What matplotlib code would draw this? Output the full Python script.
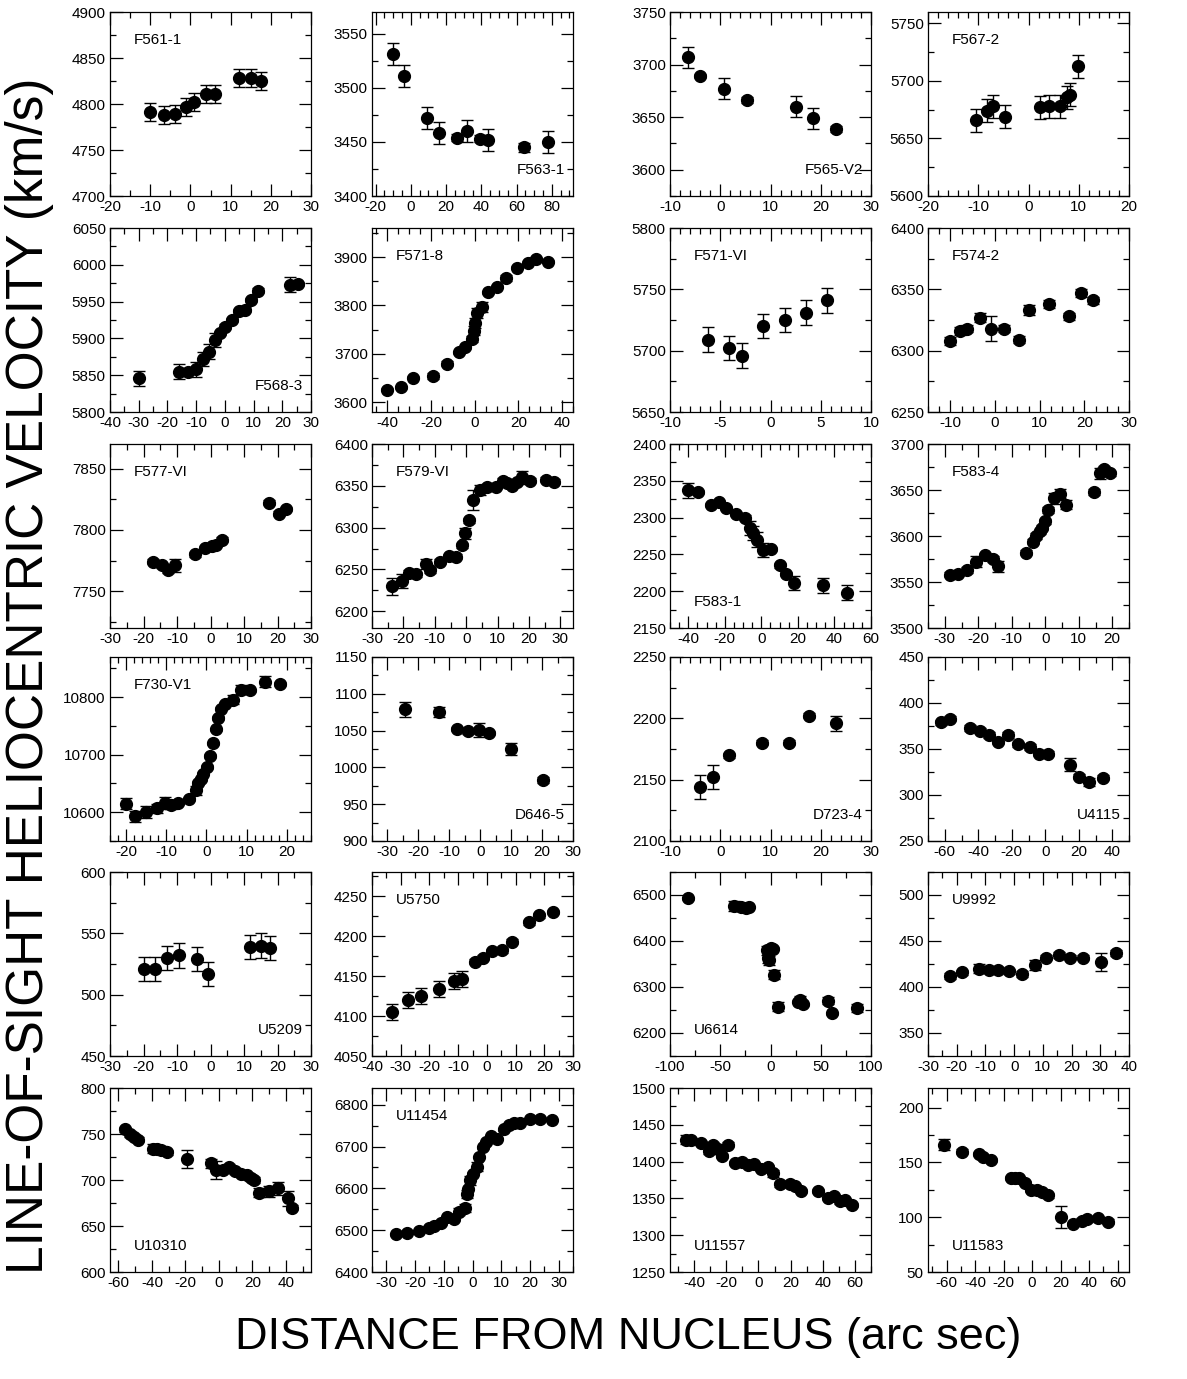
import matplotlib
matplotlib.use('Agg')
import matplotlib.pyplot as plt
from matplotlib.ticker import MultipleLocator

matplotlib.rcParams.update({'font.family': 'Liberation Sans', 'font.size': 11,
                            'axes.unicode_minus': False})

# ---- data: position (arcsec), velocity (km/s), error (km/s) ----
F561_1_x = [-10, -6.5, -3.8, -1, 1, 4, 6, 12, 15, 17.5]
F561_1_v = [4791, 4788, 4789, 4797, 4802, 4811, 4811, 4828, 4828, 4825]
F561_1_e = [10, 10, 10, 10, 10, 10, 10, 10, 10, 10]

F563_1_x = [-10, -4, 9, 16, 26, 32, 39, 44, 64, 78]
F563_1_v = [3531, 3511, 3472, 3458, 3454, 3460, 3453, 3452, 3445, 3450]
F563_1_e = [10, 10, 10, 10, 3, 10, 3, 10, 4, 10]

F565_V2_x = [-6.5, -4, 0.7, 5.3, 15, 18.5, 23]
F565_V2_v = [3707, 3689, 3677, 3666, 3660, 3649, 3639]
F565_V2_e = [10, 2, 10, 3, 10, 10, 3]

F567_2_x = [-10.5, -8.3, -7, -4.7, 2.2, 4.1, 6.2, 7.6, 8.3, 9.8]
F567_2_v = [5666, 5674, 5678, 5669, 5677, 5678, 5678, 5686, 5688, 5713]
F567_2_e = [10, 10, 10, 10, 10, 10, 10, 10, 10, 10]

F568_3_x = [-29.9, -16, -12.8, -9.9, -7.6, -5.5, -3.5, -1.8, 0.2, 2.5, 4.8, 7.1, 9.2, 11.5, 22.7, 25.6]
F568_3_v = [5846, 5855, 5855, 5858, 5872, 5882, 5898, 5907, 5916, 5925, 5937, 5939, 5952, 5965, 5973, 5974]
F568_3_e = [10, 10, 3, 10, 10, 10, 10, 3, 3, 3, 3, 3, 3, 3, 10, 3]

F571_8_x = [-40, -33.9, -28.3, -19.1, -12.7, -7.4, -4.4, -1.4, -0.5, 0, 0.9, 3.2, 6.2, 10.3, 14.2, 19.4, 24.4, 28.2, 33.5]
F571_8_v = [3626, 3631, 3651, 3655, 3680, 3703, 3714, 3731, 3748, 3764, 3785, 3797, 3827, 3839, 3857, 3878, 3888, 3897, 3890]
F571_8_e = [3, 3, 3, 6, 6, 3, 3, 6, 10, 10, 10, 10, 3, 3, 6, 3, 3, 3, 3]

F571_VI_x = [-6.2, -4.1, -2.8, -0.7, 1.4, 3.5, 5.6]
F571_VI_v = [5709, 5702, 5696, 5720, 5725, 5731, 5741]
F571_VI_e = [10, 10, 10, 10, 10, 10, 10]

F574_2_x = [-10, -7.9, -6.2, -3.4, -0.9, 2.0, 5.4, 7.7, 12.0, 16.5, 19.3, 22.0]
F574_2_v = [6308, 6316, 6318, 6327, 6318, 6318, 6309, 6333, 6338, 6328, 6347, 6341]
F574_2_e = [3, 3, 3, 4, 10, 3, 3, 4, 3, 3, 3, 3]

F577_VI_x = [-17.1, -14.6, -12.6, -10.7, -4.7, -1.7, 0.3, 1.7, 3.3, 17.6, 20.3, 22.6]
F577_VI_v = [7774, 7771, 7767, 7771, 7780, 7785, 7787, 7788, 7792, 7822, 7813, 7817]
F577_VI_e = [2, 2, 2, 5, 2, 2, 2, 2, 2, 2, 2, 2]

F579_VI_x = [-23.6, -20.4, -18.3, -16.0, -12.8, -11.4, -8.4, -5.6, -3.1, -1.3, -0.3, 0.8, 2.1,
             4.3, 6.6, 9.5, 11.6, 13.0, 14.6, 16.2, 17.8, 20.4, 25.4, 28.1]
F579_VI_v = [6230, 6236, 6246, 6244, 6256, 6249, 6259, 6266, 6265, 6279, 6293, 6309, 6333,
             6345, 6349, 6349, 6356, 6353, 6350, 6355, 6360, 6356, 6357, 6355]
F579_VI_e = [10, 8, 3, 3, 6, 3, 3, 3, 3, 3, 6, 3, 12, 6, 3, 3, 3, 3, 3, 3, 8, 3, 3, 3]

F583_1_x = [-40, -34.5, -27.6, -23.2, -19.4, -14.1, -9.0, -6.2, -4.8, -2.2, 0.7, 5.1, 10.4, 13.3, 18.0, 33.9, 46.7]
F583_1_v = [2337, 2335, 2317, 2321, 2313, 2305, 2300, 2286, 2279, 2270, 2256, 2257, 2235, 2223, 2211, 2208, 2198]
F583_1_e = [10, 3, 3, 3, 3, 3, 3, 10, 10, 10, 10, 3, 3, 3, 10, 10, 10]

F583_4_x = [-28.5, -26, -23.5, -20.7, -18, -15.5, -14, -5.7, -3.8, -2.7, -1.7, -1, -0.2, 0.8,
            2.5, 4.5, 6.2, 14.7, 16.2, 17.5, 19.3]
F583_4_v = [3558, 3559, 3563, 3572, 3579, 3575, 3567, 3582, 3594, 3600, 3605, 3609, 3616, 3628,
            3641, 3646, 3634, 3648, 3668, 3673, 3668]
F583_4_e = [3, 3, 3, 6, 3, 3, 6, 3, 3, 3, 3, 3, 3, 3, 6, 5, 5, 3, 6, 3, 3]

F730_V1_x = [-20, -17.7, -15, -12.3, -10.2, -8.8, -7.2, -4.3, -2.6, -2.0, -1.4, -0.8, 0.1, 0.8,
             1.7, 2.3, 2.9, 3.6, 4.6, 6.7, 8.5, 10.8, 14.5, 18.4]
F730_V1_v = [10615, 10593, 10600, 10607, 10616, 10613, 10616, 10623, 10638, 10651, 10658, 10667,
             10679, 10698, 10720, 10744, 10764, 10780, 10788, 10796, 10813, 10812, 10827, 10823]
F730_V1_e = [10, 10, 10, 8, 10, 8, 3, 3, 8, 3, 3, 3, 3, 3, 3, 3, 3, 3, 3, 8, 8, 3, 10, 3]

D646_5_x = [-24.2, -13.4, -7.6, -3.9, -0.5, 2.7, 9.9, 20.4]
D646_5_v = [1079, 1075, 1052, 1049, 1051, 1047, 1025, 983]
D646_5_e = [10, 7, 3, 3, 10, 3, 8, 4]

D723_4_x = [-4.1, -1.4, 1.7, 8.3, 13.7, 17.6, 23.1]
D723_4_v = [2144, 2152, 2170, 2180, 2180, 2202, 2196]
D723_4_e = [10, 10, 2, 2, 2, 2, 6]

U4115_x = [-62.4, -57, -45, -39, -33.4, -28.4, -22.4, -16, -9.4, -4, 1.4, 14.6, 20, 26, 34.4]
U4115_v = [379, 383, 373, 370, 365, 358, 365, 355, 352, 345, 345, 333, 320, 314, 319]
U4115_e = [3, 3, 3, 3, 3, 3, 3, 3, 3, 3, 3, 7, 3, 4, 3]

U5209_x = [-20, -16.5, -13, -9.5, -4.1, -0.7, 11.7, 15.2, 17.9]
U5209_v = [521, 521, 530, 532, 529, 517, 539, 540, 538]
U5209_e = [10, 10, 10, 10, 10, 10, 10, 10, 10]

U5750_x = [-33, -27.5, -22.8, -16.6, -11.6, -8.7, -4.1, -1.4, 1.7, 5.2, 8.7, 14.7, 18.2, 22.9]
U5750_v = [4105, 4120, 4125, 4134, 4144, 4146, 4168, 4173, 4181, 4182, 4193, 4217, 4226, 4230]
U5750_e = [10, 10, 10, 10, 10, 10, 3, 3, 3, 3, 3, 3, 3, 3]

U6614_x = [-82, -36.5, -29.8, -24.7, -21.4, -3, -2, -1, 0.5, 2, 3.5, 7, 27, 29.8, 32, 57, 61, 85.6]
U6614_v = [6493, 6476, 6475, 6471, 6474, 6380, 6362, 6358, 6385, 6383, 6327, 6257, 6268, 6271,
           6262, 6270, 6243, 6254]
U6614_e = [3, 10, 3, 3, 3, 10, 10, 10, 3, 3, 10, 10, 3, 10, 3, 8, 3, 8]

U9992_x = [-22.4, -18.3, -12.3, -8.8, -5.7, -1.8, 2.9, 7.1, 11.2, 15.5, 19.6, 24, 30.3, 35.6]
U9992_v = [412, 416, 420, 419, 419, 417, 414, 424, 432, 435, 432, 432, 427, 437]
U9992_e = [3, 3, 5, 3, 3, 3, 3, 5, 3, 3, 3, 3, 10, 3]

U10310_x = [-56, -53, -50.7, -48, -39.2, -37.2, -34.3, -30.9, -18.8, -4.6, -1.6, 2.4, 6.3, 9.9,
            13.3, 16.6, 19.2, 21.2, 24.2, 29.7, 35, 41, 43.4]
U10310_v = [755, 750, 747, 744, 734, 734, 733, 730, 723, 718, 711, 711, 714, 710, 707, 705,
            702, 700, 686, 688, 691, 680, 670]
U10310_e = [3, 3, 3, 3, 5, 3, 4, 3, 10, 5, 10, 3, 3, 3, 3, 3, 3, 3, 5, 6, 7, 8, 3]

U11454_x = [-26.5, -22.7, -18.8, -15.2, -13.3, -11, -8.9, -6.3, -4.6, -2.5, -2, -1.4, -0.8, 0.2,
            1.4, 2.3, 3.5, 4.6, 6.3, 8.7, 11, 12.7, 14.4, 16.5, 20, 23.6, 27.7]
U11454_v = [6490, 6494, 6498, 6506, 6510, 6516, 6532, 6526, 6544, 6553, 6587, 6599, 6619, 6635,
            6652, 6675, 6698, 6710, 6725, 6718, 6741, 6751, 6756, 6756, 6766, 6767, 6764]
U11454_e = [3, 3, 3, 3, 3, 3, 3, 3, 8, 10, 10, 3, 10, 3, 10, 3, 3, 3, 3, 3, 3, 3, 3, 3, 3, 3, 3]

U11557_x = [-45.2, -42, -35.8, -30.6, -28.5, -25.4, -22.7, -18.8, -14.4, -10.2, -6.7, -2.5, 1.3,
            5.8, 9, 13.1, 19.4, 22.9, 26.7, 37.1, 43.3, 47.1, 50.6, 53.8, 57.9]
U11557_v = [1430, 1429, 1425, 1414, 1423, 1417, 1408, 1423, 1398, 1399, 1395, 1397, 1390, 1392,
            1384, 1369, 1370, 1367, 1360, 1360, 1351, 1353, 1346, 1348, 1341]
U11557_e = [6, 3, 3, 3, 3, 3, 3, 3, 3, 3, 3, 3, 3, 3, 5, 3, 3, 3, 3, 3, 3, 3, 3, 3, 3]

U11583_x = [-61.9, -49.4, -37.2, -34.1, -28.9, -14.8, -12, -9.4, -4.7, -0.5, 3.5, 7.1, 11.3,
            20.5, 28.9, 34.8, 38.8, 46.4, 53]
U11583_v = [166, 160, 158, 155, 152, 136, 136, 136, 131, 125, 125, 123, 120, 100, 94, 97, 98, 99, 96]
U11583_e = [5, 2, 2, 2, 2, 2, 2, 2, 2, 2, 2, 2, 2, 10, 2, 2, 2, 2, 2]

# name, data, label corner, xlim, x major/minor, ylim, y major/minor
panels = [
    ('F561-1', F561_1_x, F561_1_v, F561_1_e, 'ul', (-20, 30), 10, 5, (4700, 4900), 50, 25),
    ('F563-1', F563_1_x, F563_1_v, F563_1_e, 'lr', (-22, 92), 20, 5, (3400, 3570), 50, 25),
    ('F565-V2', F565_V2_x, F565_V2_v, F565_V2_e, 'lr', (-10, 30), 10, 2, (3575, 3750), 50, 25),
    ('F567-2', F567_2_x, F567_2_v, F567_2_e, 'ul', (-20, 20), 10, 2, (5600, 5760), 50, 25),
    ('F568-3', F568_3_x, F568_3_v, F568_3_e, 'lr', (-40, 30), 10, 5, (5800, 6050), 50, 25),
    ('F571-8', F571_8_x, F571_8_v, F571_8_e, 'ul', (-47, 45), 20, 5, (3580, 3960), 100, 50),
    ('F571-VI', F571_VI_x, F571_VI_v, F571_VI_e, 'ul', (-10, 10), 5, 1, (5650, 5800), 50, 25),
    ('F574-2', F574_2_x, F574_2_v, F574_2_e, 'ul', (-15, 30), 10, 2.5, (6250, 6400), 50, 25),
    ('F577-VI', F577_VI_x, F577_VI_v, F577_VI_e, 'ul', (-30, 30), 10, 5, (7720, 7870), 50, 25),
    ('F579-VI', F579_VI_x, F579_VI_v, F579_VI_e, 'ul', (-30, 34), 10, 5, (6180, 6400), 50, 25),
    ('F583-1', F583_1_x, F583_1_v, F583_1_e, 'll', (-50, 60), 20, 5, (2150, 2400), 50, 25),
    ('F583-4', F583_4_x, F583_4_v, F583_4_e, 'ul', (-35, 25), 10, 5, (3500, 3700), 50, 25),
    ('F730-V1', F730_V1_x, F730_V1_v, F730_V1_e, 'ul', (-24, 26), 10, 2, (10550, 10870), 100, 50),
    ('D646-5', D646_5_x, D646_5_v, D646_5_e, 'lr', (-35, 30), 10, 5, (900, 1150), 50, 25),
    ('D723-4', D723_4_x, D723_4_v, D723_4_e, 'lr', (-10, 30), 10, 2, (2100, 2250), 50, 25),
    ('U4115', U4115_x, U4115_v, U4115_e, 'lr', (-70, 50), 20, 10, (250, 450), 50, 25),
    ('U5209', U5209_x, U5209_v, U5209_e, 'lr', (-30, 30), 10, 5, (450, 600), 50, 25),
    ('U5750', U5750_x, U5750_v, U5750_e, 'ul', (-40, 30), 10, 5, (4050, 4280), 50, 25),
    ('U6614', U6614_x, U6614_v, U6614_e, 'll', (-100, 100), 50, 25, (6150, 6550), 100, 50),
    ('U9992', U9992_x, U9992_v, U9992_e, 'ul', (-30, 40), 10, 5, (325, 525), 50, 25),
    ('U10310', U10310_x, U10310_v, U10310_e, 'll', (-65, 55), 20, 10, (600, 800), 50, 25),
    ('U11454', U11454_x, U11454_v, U11454_e, 'ul', (-35, 35), 10, 5, (6400, 6840), 100, 50),
    ('U11557', U11557_x, U11557_v, U11557_e, 'll', (-55, 70), 20, 10, (1250, 1500), 50, 25),
    ('U11583', U11583_x, U11583_v, U11583_e, 'll', (-73, 68), 20, 10, (50, 218), 50, 25),
]

W, H = 1187, 1379
f = plt.figure(figsize=(W / 100, H / 100), dpi=100)

col_left = [110, 372, 670, 928]
row_top = [12, 228, 444, 657, 872, 1088]
pw, ph = 201, 184

for i, (name, x, v, e, corner, xl, xmaj, xmin, yl, ymaj, ymin) in enumerate(panels):
    r, c = divmod(i, 4)
    ax = f.add_axes([col_left[c] / W, 1 - (row_top[r] + ph) / H, pw / W, ph / H])
    ax.errorbar(x, v, yerr=e, fmt='o', color='k', ms=8.5, capsize=4.5,
                elinewidth=1, capthick=1)
    ax.set_xlim(*xl)
    ax.set_ylim(*yl)
    ax.xaxis.set_major_locator(MultipleLocator(xmaj))
    ax.xaxis.set_minor_locator(MultipleLocator(xmin))
    ax.yaxis.set_major_locator(MultipleLocator(ymaj))
    ax.yaxis.set_minor_locator(MultipleLocator(ymin))
    ax.tick_params(which='both', direction='in', top=True, right=True, width=0.9)
    ax.tick_params(which='major', length=9, labelsize=11, pad=3)
    ax.tick_params(which='minor', length=4.5)
    for s in ax.spines.values():
        s.set_linewidth(0.9)
    if corner == 'ul':
        ax.text(0.12, 0.85, name, transform=ax.transAxes, fontsize=11, va='center', ha='left')
    elif corner == 'll':
        ax.text(0.12, 0.14, name, transform=ax.transAxes, fontsize=11, va='center', ha='left')
    else:
        ax.text(0.96, 0.14, name, transform=ax.transAxes, fontsize=11, va='center', ha='right')

f.text(30 / W, 1 - 676 / H, 'LINE-OF-SIGHT HELIOCENTRIC VELOCITY (km/s)', rotation=90,
       ha='center', va='center', fontsize=37)
f.text(628 / W, 1 - 1338 / H, 'DISTANCE FROM NUCLEUS (arc sec)',
       ha='center', va='center', fontsize=32.5)

f.savefig('out.png', dpi=100)
